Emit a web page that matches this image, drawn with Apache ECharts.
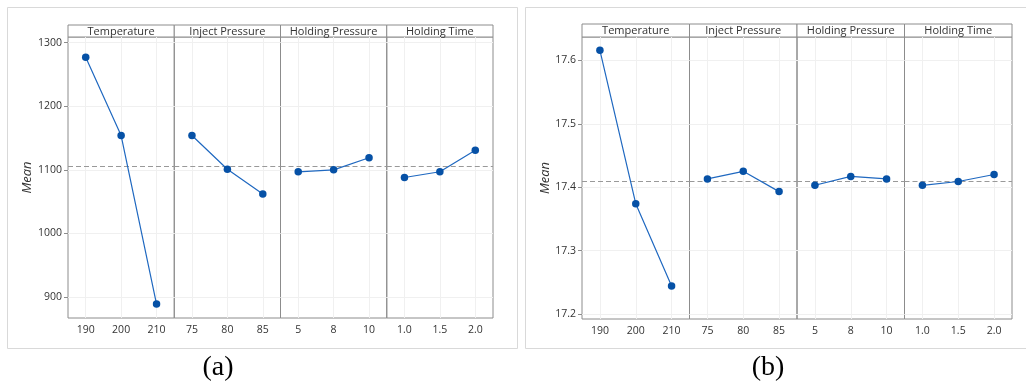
<!DOCTYPE html>
<html>
<head>
<meta charset="utf-8">
<script src="https://cdn.jsdelivr.net/npm/echarts@6/dist/echarts.min.js"></script>
<style>
  html, body { margin: 0; padding: 0; background: #fff; }
  #chart { width: 1026px; height: 385px; }
</style>
</head>
<body>
<div id="chart"></div>
<script>
const factors = ['Temperature', 'Inject Pressure', 'Holding Pressure', 'Holding Time'];
const levels = [['190', '200', '210'], ['75', '80', '85'], ['5', '8', '10'], ['1.0', '1.5', '2.0']];

const meansA = [[1277, 1154, 889], [1154, 1101, 1062], [1097, 1100, 1119], [1088, 1097, 1131]];
const grandA = 1106;
const ticksA = [900, 1000, 1100, 1200, 1300];

const meansB = [[17.616, 17.374, 17.244], [17.413, 17.425, 17.393], [17.403, 17.417, 17.413], [17.403, 17.409, 17.420]];
const grandB = 17.411;
const ticksB = [17.2, 17.3, 17.4, 17.5, 17.6];

const FONT = 'Open Sans';
const LINE = '#1f68c0';
const DOT = '#0651a6';
const FRAME = '#8c8c8c';

// panel layout (pixels)
const panels = [
  { means: meansA, grand: grandA, ticks: ticksA, min: 867, max: 1309, fmt: v => String(v), nameGap: 30,
    left: 68, right: 493, top: 37, bottom: 318, head: 25, box: [7, 7, 510, 341], tag: '(a)', tagX: 218 },
  { means: meansB, grand: grandB, ticks: ticksB, min: 17.192, max: 17.637, fmt: v => v.toFixed(1), nameGap: 24,
    left: 582, right: 1012, top: 37, bottom: 319, head: 24, box: [525, 7, 505, 341], tag: '(b)', tagX: 768 }
];

const grid = [], xAxis = [], yAxis = [], series = [], graphic = [];

panels.forEach((p, pi) => {
  graphic.push({ type: 'rect', shape: { x: p.box[0] + 0.5, y: p.box[1] + 0.5, width: p.box[2], height: p.box[3] },
    style: { fill: 'none', stroke: '#d9d9d9', lineWidth: 1 }, z: -1 });
  graphic.push({ type: 'text', x: p.tagX, y: 368,
    style: { text: p.tag, font: '28px "Liberation Serif"', fill: '#000', align: 'center', verticalAlign: 'middle' } });
  const w = (p.right - p.left) / 4;
  factors.forEach((f, fi) => {
    const idx = pi * 4 + fi;
    const gl = p.left + w * fi;
    grid.push({ left: gl, width: w, top: p.top, height: p.bottom - p.top,
      show: true, borderColor: FRAME, borderWidth: 1, backgroundColor: 'transparent' });
    graphic.push({ type: 'rect', shape: { x: gl, y: p.head, width: w, height: p.top - p.head },
      style: { fill: '#fff', stroke: FRAME, lineWidth: 1 } });
    graphic.push({ type: 'text', x: gl + w / 2, y: (p.head + p.top) / 2 + 0.5,
      style: { text: f, font: '11px "' + FONT + '"', fill: '#333', align: 'center', verticalAlign: 'middle' } });
    xAxis.push({ type: 'category', gridIndex: idx, data: levels[fi], boundaryGap: true,
      axisLine: { show: false }, axisTick: { show: false }, splitLine: { show: false },
      axisLabel: { color: '#333', fontSize: 10.5, fontFamily: FONT, margin: 7 } });
    yAxis.push({ type: 'value', gridIndex: idx, min: p.min, max: p.max,
      name: fi === 0 ? 'Mean' : '', nameLocation: 'middle', nameGap: p.nameGap,
      nameTextStyle: { fontStyle: 'italic', fontSize: 13, fontFamily: FONT, color: '#333' },
      axisLine: { show: false }, splitLine: { show: false },
      axisTick: { show: fi === 0, length: 4, lineStyle: { color: FRAME }, customValues: p.ticks },
      axisLabel: { show: fi === 0, color: '#333', fontSize: 10.5, fontFamily: FONT, margin: 6,
        customValues: p.ticks, formatter: p.fmt } });
    // faint grid + dashed grand mean, kept under the data
    const gridLines = levels[fi].map((_, k) => ({ xAxis: k }))
      .concat(p.ticks.map(t => ({ yAxis: t })))
      .map(d => Object.assign(d, { lineStyle: { color: '#f0f0f0', type: 'solid', width: 1 } }));
    series.push({ type: 'line', xAxisIndex: idx, yAxisIndex: idx, data: [], z: 1,
      markLine: { silent: true, symbol: 'none', label: { show: false },
        data: gridLines.concat([{ yAxis: p.grand, lineStyle: { color: '#999', type: [5, 3], width: 1 } }]) } });
    series.push({ type: 'line', xAxisIndex: idx, yAxisIndex: idx, data: p.means[fi], z: 5,
      symbol: 'circle', symbolSize: 7.5, itemStyle: { color: DOT },
      lineStyle: { color: LINE, width: 1.2 } });
  });
});

const chart = echarts.init(document.getElementById('chart'));
chart.setOption({ animation: false, backgroundColor: '#fff', grid, xAxis, yAxis, series, graphic });
</script>
</body>
</html>
